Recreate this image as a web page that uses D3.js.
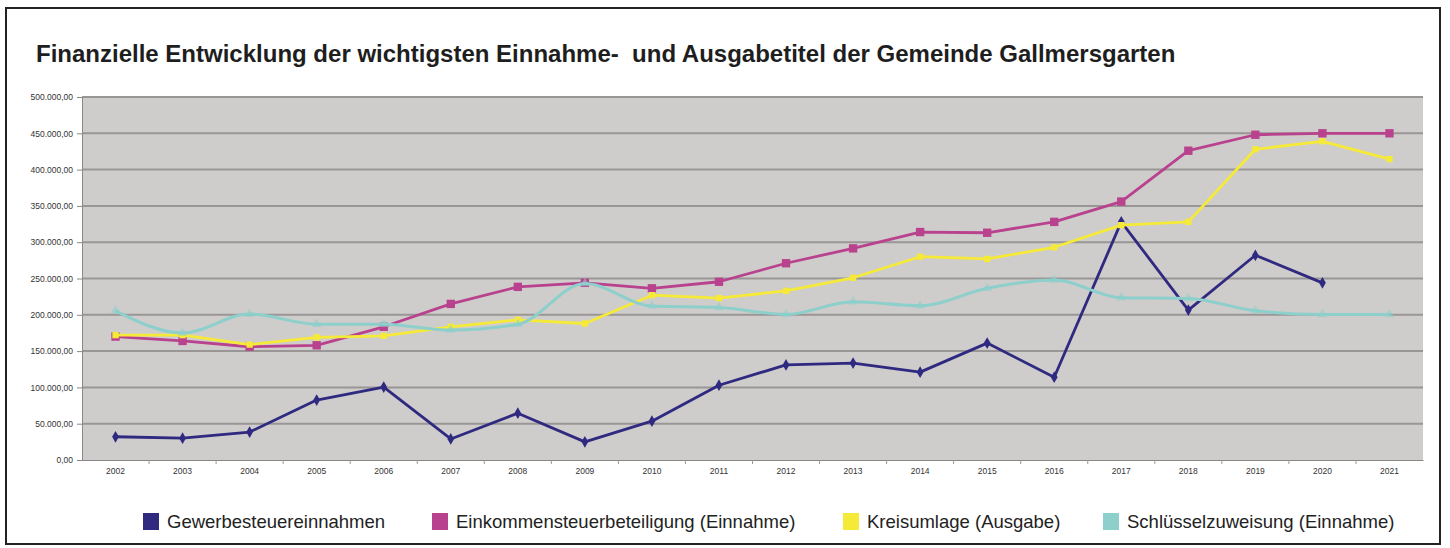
<!DOCTYPE html>
<html>
<head>
<meta charset="utf-8">
<script src="https://cdn.jsdelivr.net/npm/d3@7"></script>
<style>
  body { margin: 0; background: #fff; }
  svg { display: block; font-family: "Liberation Sans", Arial, sans-serif; }
  .tick text { fill: #333; }
</style>
</head>
<body>
<svg id="chart" width="1450" height="548"></svg>
<script>
const years = ['2002','2003','2004','2005','2006','2007','2008','2009','2010','2011',
               '2012','2013','2014','2015','2016','2017','2018','2019','2020','2021'];

const gewerbesteuer = [32000, 30000, 38500, 82500, 100500, 29000, 64500, 25000, 53500, 103000,
                       131000, 133500, 121000, 161000, 114000, 328000, 206500, 282000, 244000, null];
const einkommensteuer = [170000, 164000, 156000, 158000, 183500, 215000, 238500, 244000, 236500, 245500,
                         271000, 291500, 314000, 313000, 328000, 356000, 426000, 448000, 450000, 450000];
const kreisumlage = [172000, 172000, 159000, 169000, 171000, 183500, 193000, 188000, 227000, 223000,
                     233000, 251000, 280000, 277000, 293000, 323500, 328000, 428000, 439000, 414500];
const schluessel = [205500, 175000, 201000, 187000, 187000, 179000, 187000, 243000, 212000, 210000,
                    200500, 218000, 212500, 236500, 248000, 223500, 222500, 205500, 200500, 200500];

const yTicks = [0, 50000, 100000, 150000, 200000, 250000, 300000, 350000, 400000, 450000, 500000];

const series = [
  { name: 'Gewerbesteuereinnahmen', values: gewerbesteuer, color: '#2f2a80', marker: 'diamond', size: 40 },
  { name: 'Einkommensteuerbeteiligung (Einnahme)', values: einkommensteuer, color: '#b9428e', marker: 'square', size: 70 },
  { name: 'Kreisumlage (Ausgabe)', values: kreisumlage, color: '#f6ea38', marker: 'square', size: 40 },
  { name: 'Schlüsselzuweisung (Einnahme)', values: schluessel, color: '#8ccfcb', marker: 'triangle', size: 40 }
];

const svg = d3.select('#chart');
const plot = { left: 82, right: 1423, top: 97, bottom: 460 };

// outer frame
svg.append('rect')
  .attr('x', 6).attr('y', 8).attr('width', 1434).attr('height', 536)
  .attr('fill', 'none').attr('stroke', '#222').attr('stroke-width', 2);

// title
svg.append('text')
  .attr('x', 36).attr('y', 62)
  .attr('font-size', 24).attr('font-weight', 'bold').attr('fill', '#1e1e1e')
  .text('Finanzielle Entwicklung der wichtigsten Einnahme-\u00a0 und Ausgabetitel der Gemeinde Gallmersgarten');

const x = d3.scaleBand().domain(years).range([plot.left, plot.right]);
const y = d3.scaleLinear().domain([0, 500000]).range([plot.bottom, plot.top]);

const de = d3.formatLocale({ decimal: ',', thousands: '.', grouping: [3], currency: ['', ' €'] });
const fmt = de.format(',.2f');

// plot background
svg.append('rect')
  .attr('x', plot.left).attr('y', plot.top)
  .attr('width', plot.right - plot.left).attr('height', plot.bottom - plot.top)
  .attr('fill', '#cfcccc');

// grid lines
svg.append('g')
  .selectAll('line')
  .data(yTicks.filter(d => d > 0))
  .enter()
  .append('line')
  .attr('x1', plot.left).attr('x2', plot.right)
  .attr('y1', d => y(d)).attr('y2', d => y(d))
  .attr('stroke', '#9a9696').attr('stroke-width', 2);

// y axis
const yAxis = svg.append('g')
  .attr('transform', `translate(${plot.left},0)`)
  .call(d3.axisLeft(y).tickValues(yTicks).tickFormat(fmt).tickSize(5).tickPadding(4));
yAxis.selectAll('text').attr('font-size', 8.5).attr('fill', '#333');
yAxis.selectAll('line, path').attr('stroke', '#888');

// x axis
const xAxis = svg.append('g')
  .attr('transform', `translate(0,${plot.bottom})`)
  .call(d3.axisBottom(x).tickSize(0).tickPadding(8));
xAxis.selectAll('text').attr('font-size', 8.5).attr('fill', '#333');
xAxis.select('path').attr('stroke', '#888');
xAxis.selectAll('.sep')
  .data(years.slice(1))
  .enter()
  .append('line')
  .attr('x1', d => x(d)).attr('x2', d => x(d))
  .attr('y1', 0).attr('y2', 4)
  .attr('stroke', '#999');

const cx = d => x(d) + x.bandwidth() / 2;

const symbolType = { diamond: d3.symbolDiamond, square: d3.symbolSquare, triangle: d3.symbolTriangle };

series.forEach(s => {
  const pts = years.map((yr, i) => ({ yr, v: s.values[i] })).filter(p => p.v !== null);
  const line = d3.line()
    .x(p => cx(p.yr))
    .y(p => y(p.v))
    .curve(s.marker === 'triangle' ? d3.curveMonotoneX : d3.curveLinear);

  svg.append('path')
    .datum(pts)
    .attr('d', line)
    .attr('fill', 'none')
    .attr('stroke', s.color)
    .attr('stroke-width', s.marker === 'triangle' ? 3 : 2.8)
    .attr('stroke-linejoin', 'round');

  svg.append('g')
    .selectAll('path')
    .data(pts)
    .enter()
    .append('path')
    .attr('transform', p => `translate(${cx(p.yr)},${y(p.v)})`)
    .attr('d', d3.symbol().type(symbolType[s.marker]).size(s.size))
    .attr('fill', s.color)
    .attr('opacity', s.marker === 'triangle' ? 0.6 : 1);
});

// legend
const legendX = [143, 432, 843, 1103];
const legend = svg.append('g')
  .selectAll('g')
  .data(series)
  .enter()
  .append('g')
  .attr('transform', (d, i) => `translate(${legendX[i]},513)`);
legend.append('rect')
  .attr('width', 16).attr('height', 17)
  .attr('fill', d => d.color);
legend.append('text')
  .attr('x', 24).attr('y', 15)
  .attr('font-size', 18.5).attr('fill', '#222')
  .text(d => d.name);
</script>
</body>
</html>
